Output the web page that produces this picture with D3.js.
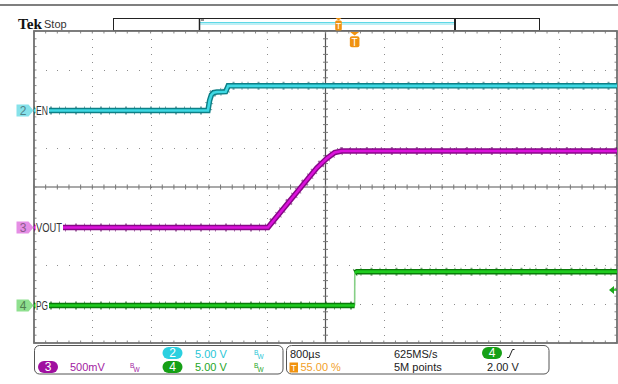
<!DOCTYPE html>
<html><head><meta charset="utf-8">
<script src="https://cdn.jsdelivr.net/npm/d3@7"></script>
<style>
html,body{margin:0;padding:0;background:#fff;}
svg{display:block;font-family:"Liberation Sans",Arial,sans-serif;}
</style></head>
<body><svg id="c" width="618" height="384"></svg>
<script>
// ---- data (time in µs relative to trigger, values in volts) ----
const enTime   = [-4400, -2013, -1990, -1966, -1935, -1890, -1770, -1752, -1735, 3600];
const enVolt   = [0, 0, 1.3, 2.0, 2.3, 2.38, 2.42, 2.8, 3.17, 3.17];
const voutTime = [-4400, -1190, -521, -384, -274, -178, 3600];
const voutVolt = [0, 0, 0.763, 0.885, 0.962, 0.981, 0.981];
const pgTime   = [-4400, 0, 2, 30, 3600];
const pgVolt   = [0, 0, 4.2, 4.35, 4.35];

const channelNames  = ["EN", "VOUT", "PG"];
const channelNums   = ["2", "3", "4"];
const channelScales = [5, 0.5, 5];          // V/div
const channelPos    = [1.96, -1.04, -3.04]; // divisions
const triggerLevel  = 2.0;                  // V on CH4

const timeDomain = [-4400, 3600];           // 800 µs/div, trigger at 55%
const divDomain  = [-4, 4];

const row1Texts = ["5.00 V", "800µs", "625MS/s"];
const row2Texts = ["500mV", "5.00 V", "55.00 %", "5M points", "2.00 V"];

// ---- layout ----
const svg = d3.select("#c");
const L = 34, R = 617, T = 31, B = 343;
const x = d3.scaleLinear().domain(timeDomain).range([L, R]);
const y = d3.scaleLinear().domain(divDomain).range([B, T]);

// top gray bar
svg.append("rect").attr("x",0).attr("y",4).attr("width",618).attr("height",2).attr("fill","#7f7f7f");

// Tek Stop
svg.append("text").attr("x",18).attr("y",29).text("Tek")
  .attr("font-family","'Liberation Serif','DejaVu Serif',serif").attr("font-weight","bold")
  .attr("font-size",15.5).attr("fill","#111").attr("textLength",24).attr("lengthAdjust","spacingAndGlyphs");
svg.append("text").attr("x",44).attr("y",28).text("Stop").attr("font-size",11).attr("fill","#333");

// record bar
svg.append("rect").attr("x",113.5).attr("y",18.5).attr("width",426).attr("height",12)
  .attr("fill","#fff").attr("stroke","#222").attr("stroke-width",1);
svg.append("rect").attr("x",200).attr("y",22.5).attr("width",254).attr("height",2.5).attr("fill","#bdeff5");
svg.append("line").attr("x1",200).attr("x2",454).attr("y1",22.5).attr("y2",22.5).attr("stroke","#5fd8e6");
svg.append("line").attr("x1",199.5).attr("x2",199.5).attr("y1",18).attr("y2",31).attr("stroke","#222").attr("stroke-width",1.5);
svg.append("line").attr("x1",201).attr("x2",204).attr("y1",20).attr("y2",20).attr("stroke","#222");
svg.append("line").attr("x1",455).attr("x2",455).attr("y1",18).attr("y2",31).attr("stroke","#222").attr("stroke-width",2);

// ---- graticule ----
const g = svg.append("g");
const minorT = d3.range(timeDomain[0], timeDomain[1] + 1, 160);
const minorD = d3.range(-4, 4.001, 0.2);
const majorT = d3.range(timeDomain[0], timeDomain[1] + 1, 800);
const majorD = d3.range(-4, 5, 1);
const centerT = timeDomain[0] + 4000;
majorD.filter(d => d !== 0 && Math.abs(d) !== 4).forEach(d => {
  minorT.forEach(t => g.append("rect").attr("x", Math.round(x(t))).attr("y", Math.round(y(d))).attr("width",1).attr("height",1).attr("fill","#8c8c8c"));
});
majorT.filter(t => t !== centerT && t !== timeDomain[0] && t !== timeDomain[1]).forEach(t => {
  minorD.forEach(d => g.append("rect").attr("x", Math.round(x(t))).attr("y", Math.round(y(d))).attr("width",1).attr("height",1).attr("fill","#8c8c8c"));
});
g.append("line").attr("x1",x(centerT)).attr("x2",x(centerT)).attr("y1",T).attr("y2",B).attr("stroke","#555").attr("stroke-width",1.2);
g.append("line").attr("x1",L).attr("x2",R).attr("y1",y(0)).attr("y2",y(0)).attr("stroke","#555").attr("stroke-width",1.2);
minorD.forEach(d => g.append("line").attr("x1",x(centerT)-2.5).attr("x2",x(centerT)+2.5).attr("y1",y(d)).attr("y2",y(d)).attr("stroke","#777"));
minorT.forEach(t => g.append("line").attr("x1",x(t)).attr("x2",x(t)).attr("y1",y(0)-2.5).attr("y2",y(0)+2.5).attr("stroke","#777"));
minorT.forEach(t => {
  g.append("line").attr("x1",x(t)).attr("x2",x(t)).attr("y1",T).attr("y2",T+2.5).attr("stroke","#888");
  g.append("line").attr("x1",x(t)).attr("x2",x(t)).attr("y1",B-2.5).attr("y2",B).attr("stroke","#888");
});
minorD.forEach(d => {
  g.append("line").attr("x1",L).attr("x2",L+2.5).attr("y1",y(d)).attr("y2",y(d)).attr("stroke","#888");
  g.append("line").attr("x1",R-2.5).attr("x2",R).attr("y1",y(d)).attr("y2",y(d)).attr("stroke","#888");
});
g.append("rect").attr("x",L).attr("y",T).attr("width",R-L).attr("height",B-T)
  .attr("fill","none").attr("stroke","#707070").attr("stroke-width",1.8);

// ---- traces ----
const traces = [
  {t: enTime, v: enVolt, dark:"#0d7f86", light:"#3ed9e4", noise:"#0a5a60", edge:"#7fd9df"},
  {t: voutTime, v: voutVolt, dark:"#860886", light:"#dc12dc", noise:"#5a045a", edge:"#d080d0"},
  {t: pgTime, v: pgVolt, dark:"#097a09", light:"#1fcc1f", noise:"#055205", edge:"#86cf86"}
];
const tg = svg.append("g");
traces.forEach((tr, i) => {
  const pts = tr.t.map((t, k) => [t, tr.v[k]]);
  const px = d => x(d[0]), py = d => y(channelPos[i] + d[1] / channelScales[i]);
  // split into slow parts (thick band) and very fast edges (thin faint line)
  const slow = [], fast = [];
  let cur = [pts[0]];
  for (let k = 1; k < pts.length; k++) {
    const a = pts[k-1], b = pts[k];
    const steep = Math.abs(py(b) - py(a)) > 8 * Math.max(0.5, Math.abs(px(b) - px(a)));
    if (steep) { fast.push([a, b]); slow.push(cur); cur = [b]; }
    else cur.push(b);
  }
  slow.push(cur);
  const line = d3.line().x(px).y(py);
  fast.forEach(seg => tg.append("path").attr("d", line(seg)).attr("fill","none")
    .attr("stroke",tr.edge).attr("stroke-width",1.6));
  slow.filter(s => s.length > 1).forEach(s => {
    tg.append("path").attr("d", line(s)).attr("fill","none").attr("stroke",tr.noise)
      .attr("stroke-width",8).attr("stroke-dasharray","1 5 1 9 2 7").attr("opacity",0.55);
  });
  slow.filter(s => s.length > 1).forEach(s => {
    tg.append("path").attr("d", line(s)).attr("fill","none").attr("stroke",tr.dark).attr("stroke-width",5.5);
  });
  slow.filter(s => s.length > 1).forEach(s => {
    tg.append("path").attr("d", line(s)).attr("fill","none").attr("stroke",tr.light).attr("stroke-width",2.6);
  });
});

// channel labels and markers
const markerFill = ["#86e2ea", "#e58ee5", "#8fe08f"];
const markerText = ["#4f8288", "#8a5a8a", "#4f7f4f"];
const labelW = [12, 26, 12];
channelNames.forEach((nm, i) => {
  const yy = y(channelPos[i]);
  svg.append("rect").attr("x",35.5).attr("y",yy-6).attr("width",labelW[i]+1.5).attr("height",12).attr("fill","#fff");
  svg.append("text").attr("x",36).attr("y",yy+4.5).text(nm).attr("font-size",12).attr("fill","#333")
    .attr("textLength",labelW[i]).attr("lengthAdjust","spacingAndGlyphs");
  svg.append("path").attr("d",`M16.5,${yy-6}L28.5,${yy-6}L33.5,${yy}L28.5,${yy+6}L16.5,${yy+6}Z`)
    .attr("fill",markerFill[i]);
  svg.append("text").attr("x",23).attr("y",yy+4.5).attr("text-anchor","middle").text(channelNums[i])
    .attr("font-size",12).attr("fill",markerText[i]);
});

// trigger level arrow (CH4)
const ty = y(channelPos[2] + triggerLevel / channelScales[2]);
svg.append("path").attr("d",`M609,${ty}L614,${ty-4}L614,${ty+4}Z`).attr("fill","#1aa81a");
svg.append("line").attr("x1",613).attr("x2",617).attr("y1",ty).attr("y2",ty).attr("stroke","#1aa81a").attr("stroke-width",1.5);

// trigger position markers
const orange = "#f0920f";
const tx = x(0);
svg.append("path").attr("d",`M${tx-4.5},32L${tx+4.5},32L${tx},35.5Z`).attr("fill",orange);
svg.append("rect").attr("x",tx-4.8).attr("y",36.2).attr("width",9.6).attr("height",11).attr("rx",2).attr("fill",orange);
svg.append("text").attr("x",tx).attr("y",45.5).attr("text-anchor","middle").text("T").attr("font-size",10).attr("fill","#fff");
const rx = 338.5;
svg.append("path").attr("d",`M${rx-3},18L${rx+3},18L${rx},20.5Z`).attr("fill",orange);
svg.append("rect").attr("x",rx-3.3).attr("y",20.5).attr("width",6.6).attr("height",10).attr("rx",1.5).attr("fill",orange);
svg.append("text").attr("x",rx).attr("y",29).attr("text-anchor","middle").text("T").attr("font-size",9).attr("fill","#fff");

// ---- info panels ----
svg.append("rect").attr("x",34.5).attr("y",345.5).attr("width",248.5).attr("height",28.5).attr("rx",5)
  .attr("fill","#fff").attr("stroke","#555");
svg.append("rect").attr("x",286.5).attr("y",345.5).attr("width",262.5).attr("height",28.5).attr("rx",5)
  .attr("fill","#fff").attr("stroke","#555");

function pill(cx, cy, fill, label) {
  svg.append("rect").attr("x",cx-10).attr("y",cy-6).attr("width",20).attr("height",12).attr("rx",6).attr("fill",fill);
  svg.append("text").attr("x",cx).attr("y",cy+4.2).attr("text-anchor","middle").text(label)
    .attr("font-size",12).attr("fill","#fff");
}
function bw(px, py, col) {
  svg.append("text").attr("x",px).attr("y",py).text("B").attr("font-size",6.5).attr("fill",col);
  svg.append("text").attr("x",px+3.5).attr("y",py+3.5).text("W").attr("font-size",6.5).attr("fill",col);
}
const cCyan = "#28c6d6", cPurple = "#a21aa2", cGreen = "#1fa51f";
pill(172.5, 353, "#2bd0e0", channelNums[0]);
svg.append("text").attr("x",195).attr("y",357.5).text(row1Texts[0]).attr("font-size",11).attr("fill",cCyan);
bw(254, 355, cCyan);
pill(48, 367, "#a010a0", channelNums[1]);
svg.append("text").attr("x",70).attr("y",371).text(row2Texts[0]).attr("font-size",11).attr("fill",cPurple);
bw(130, 368, cPurple);
pill(172.5, 367, "#16a016", channelNums[2]);
svg.append("text").attr("x",195).attr("y",371).text(row2Texts[1]).attr("font-size",11).attr("fill",cGreen);
bw(254, 368, cGreen);

svg.append("text").attr("x",290).attr("y",357.5).text(row1Texts[1]).attr("font-size",11).attr("fill","#222");
svg.append("text").attr("x",394).attr("y",357.5).text(row1Texts[2]).attr("font-size",11).attr("fill","#222");
pill(492, 353, "#16a016", channelNums[2]);
svg.append("path").attr("d","M507,357.5L509,357.5L512.5,349.5L514.5,349.5").attr("fill","none").attr("stroke","#222").attr("stroke-width",1);
svg.append("rect").attr("x",289.5).attr("y",362.5).attr("width",8.5).attr("height",10).attr("fill",orange);
svg.append("text").attr("x",293.7).attr("y",371).attr("text-anchor","middle").text("T").attr("font-size",9).attr("fill","#fff");
svg.append("text").attr("x",300.5).attr("y",371).text(row2Texts[2]).attr("font-size",11).attr("fill","#f2a12a");
svg.append("text").attr("x",394).attr("y",371).text(row2Texts[3]).attr("font-size",11).attr("fill","#222");
svg.append("text").attr("x",487).attr("y",371).text(row2Texts[4]).attr("font-size",11).attr("fill","#222");
</script></body></html>
